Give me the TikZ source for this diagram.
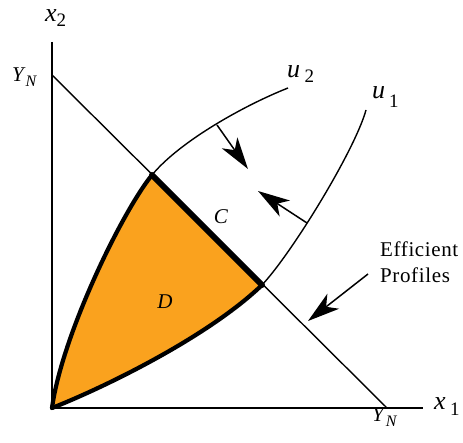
\documentclass[tikz,border=0pt]{standalone}
\usepackage{fontspec}
\setmainfont{Liberation Serif}
\usepackage{graphicx}
\usetikzlibrary{arrows.meta}
\definecolor{dfill}{RGB}{250,162,30}
\newcommand\lsub[3][5pt]{\raisebox{-#1}{\fontsize{#2}{#2}\selectfont #3}}
\begin{document}
\begin{tikzpicture}[x=1pt,y=-1pt,
  lab/.style={font=\fontsize{26}{26}\selectfont, inner sep=0pt, anchor=base west},
  ylab/.style={font=\fontsize{21}{21}\selectfont, inner sep=0pt, anchor=base west},
  txt/.style={font=\fontsize{21}{21}\selectfont, inner sep=0pt, anchor=base west},
  thin/.style={line width=1.4pt},
  thick/.style={line width=4.2pt, line join=round, line cap=round},
  bigarrow/.style={line width=1.5pt, -{Stealth[length=32pt,width=19pt,inset=9pt]}}]
\useasboundingbox (0,0) rectangle (463,443);
% key points
\coordinate (O) at (52,408);
\coordinate (A) at (152,175);
\coordinate (B) at (262,285);
\coordinate (YT) at (52,75);
\coordinate (YB) at (387,408);
\coordinate (ytop) at (52,42);
\coordinate (xend) at (423,408);
\coordinate (u2end) at (288,88);
\coordinate (u1end) at (366,110);
% region D
\fill[dfill] (O) .. controls (62,335) and (122,212) .. (A) -- (B)
   .. controls (210,335) and (110,385) .. (O) -- cycle;
% axes and budget line
\draw[thin] (ytop) -- (O) -- (xend);
\draw[thin] (YT) -- (YB);
% curves
\draw[thin] (A) .. controls (180,141) and (245,105) .. (u2end);
\draw[thin] (B) .. controls (292,253) and (355,150) .. (u1end);
% thick boundaries
\draw[thick] (O) .. controls (62,335) and (122,212) .. (A);
\draw[thick] (O) .. controls (110,385) and (210,335) .. (B);
\draw[line width=6pt, line cap=round] (A) -- (B);
% arrows
\coordinate (a2s) at (217,125);
\coordinate (a2e) at (248,169);
\coordinate (a1s) at (307,223);
\coordinate (a1e) at (258,191);
\coordinate (efs) at (368,274);
\coordinate (efe) at (308,321);
\draw[bigarrow] (a2s) -- (a2e);
\draw[bigarrow] (a1s) -- (a1e);
\draw[bigarrow] (efs) -- (efe);
% labels
\node[lab] (lx2) at (45,22) {\textit{x}\lsub{19}{2}};
\node[ylab] (lyn1) at (12,82) {\textit{Y}\lsub{16}{\textit{N}}};
\node[ylab] (lyn2) at (372,421) {\textit{Y}\lsub{16}{\textit{N}}};
\node[lab] (lx1) at (434,409) {\textit{x}\,\lsub[6pt]{19}{1}};
\node[lab] (lu2) at (287,78) {\textit{u}\,\lsub{19}{2}};
\node[lab] (lu1) at (372,99) {\textit{u}\hspace{4pt}\lsub[9pt]{19}{1}};
\node[txt, anchor=base] (lc) at (221,224) {\textit{C}};
\node[txt, anchor=base] (ld) at (165,309) {\textit{D}};
\node[txt] (lef) at (380,257) {\addfontfeatures{Ligatures=NoCommon,LetterSpace=3}Efficient};
\node[txt] (lpr) at (380,283) {\addfontfeatures{LetterSpace=3}Profiles};
\end{tikzpicture}
\end{document}
